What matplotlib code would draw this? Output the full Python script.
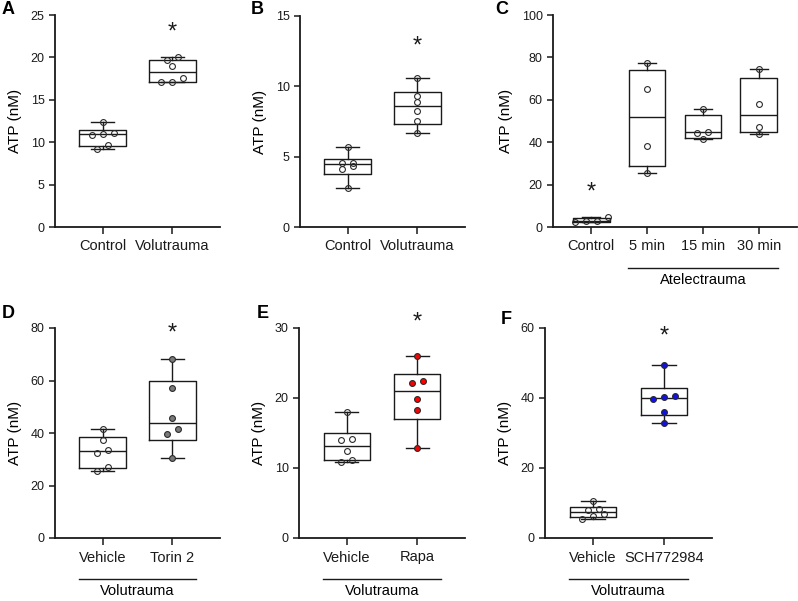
"""Six-panel ATP box plots (volutrauma / atelectrauma)."""

import matplotlib

matplotlib.use("Agg")
import matplotlib.pyplot as plt
import matplotlib.transforms as mtransforms
import numpy as np

plt.rcParams["font.family"] = ["Liberation Sans", "DejaVu Sans"]

FIG_W, FIG_H = 798, 601

# ---- data (ATP, nM) ----
a_labels = ["Control", "Volutrauma"]
a_control = [12.35, 11.12, 10.97, 10.88, 9.67, 9.16]
a_volutrauma = [20.04, 19.65, 18.94, 17.6, 17.09, 17.09]

b_labels = ["Control", "Volutrauma"]
b_control = [5.71, 4.57, 4.57, 4.34, 4.1, 2.79]
b_volutrauma = [10.59, 9.29, 8.89, 8.25, 7.54, 6.71]

c_labels = ["Control", "5 min", "15 min", "30 min"]
c_control = [4.7, 3.0, 2.6, 2.3]
c_5min = [77.2, 65.2, 38.3, 25.5]
c_15min = [55.7, 44.9, 44.3, 41.3]
c_30min = [74.6, 58.0, 47.2, 43.8]

d_labels = ["Vehicle", "Torin 2"]
d_vehicle = [41.6, 37.3, 33.6, 32.4, 27.0, 25.5]
d_torin = [68.3, 57.0, 45.6, 41.7, 39.8, 30.6]

e_labels = ["Vehicle", "Rapa"]
e_vehicle = [17.96, 14.1, 13.96, 12.45, 11.2, 10.9]
e_rapa = [26.0, 22.5, 22.2, 19.9, 18.3, 12.9]

f_labels = ["Vehicle", "SCH772984"]
f_vehicle = [10.57, 8.4, 8.0, 6.86, 6.29, 5.33]
f_sch = [49.4, 40.6, 40.2, 39.6, 35.9, 32.8]


def spread_offsets(values, row_height, step):
    """Prism-like scatter: bin close values into rows and centre each row."""
    values = np.asarray(values, dtype=float)
    order = np.argsort(values)
    offsets = np.zeros(len(values))
    rows, current = [], [order[0]]
    for idx in order[1:]:
        if values[idx] - values[current[0]] < row_height:
            current.append(idx)
        else:
            rows.append(current)
            current = [idx]
    rows.append(current)
    for row in rows:
        for k, idx in enumerate(row):
            offsets[idx] = (k - (len(row) - 1) / 2) * step
    return offsets


def draw_panel(rect_px, groups, labels, yticks, fills, star, bracket=None):
    left, top, right, bottom = rect_px
    rect = [left / FIG_W, 1 - bottom / FIG_H, (right - left) / FIG_W, (bottom - top) / FIG_H]
    ax = fig.add_axes(rect)
    n = len(groups)
    xlim = (-0.68, n - 1 + 0.68)
    ylim = (0, yticks[-1])
    ax.set_xlim(*xlim)
    ax.set_ylim(*ylim)

    stats = []
    for values in groups:
        q1, med, q3 = np.percentile(values, [25, 50, 75], method="weibull")
        stats.append(dict(med=med, q1=q1, q3=q3, whislo=min(values),
                          whishi=max(values), fliers=[]))
    line = dict(color="#1a1a1a", linewidth=1.0)
    ax.bxp(stats, positions=range(n), widths=0.66, capwidths=0.33,
           showfliers=False, manage_ticks=False, boxprops=line,
           whiskerprops=line, capprops=line, medianprops=line)

    px_per_x = (right - left) / (xlim[1] - xlim[0])
    px_per_y = (bottom - top) / (ylim[1] - ylim[0])
    for pos, (values, fill) in enumerate(zip(groups, fills)):
        offsets = spread_offsets(values, 5.5 / px_per_y, 11 / px_per_x)
        ax.plot(pos + offsets, values, linestyle="none", marker="o",
                markersize=4.2, markerfacecolor=fill, markeredgecolor="#2a2a2a",
                markeredgewidth=0.8, zorder=3, clip_on=False)

    star_pos, star_y = star
    ax.text(star_pos, star_y, "*", ha="center", va="center", fontsize=17,
            color="#1a1a1a", clip_on=False)

    ax.set_xticks(range(n), labels, fontsize=10.5)
    ax.set_yticks(yticks)
    ax.tick_params(axis="y", labelsize=9, length=4, width=1.1, colors="#1a1a1a")
    ax.tick_params(axis="x", length=5, width=1.1, pad=4, colors="#1a1a1a")
    ax.set_ylabel("ATP (nM)", fontsize=11, labelpad=6)
    ax.spines[["top", "right"]].set_visible(False)
    for side in ("left", "bottom"):
        ax.spines[side].set_linewidth(1.3)
        ax.spines[side].set_color("#1a1a1a")

    if bracket is not None:
        first, last, text = bracket
        trans = mtransforms.blended_transform_factory(ax.transData, ax.transAxes)
        y_line = -41 / (bottom - top)
        ax.plot([first - 0.34, last + 0.34], [y_line, y_line], color="#1a1a1a",
                linewidth=1.0, transform=trans, clip_on=False)
        ax.text((first + last) / 2, y_line - 5 / (bottom - top), text,
                transform=trans, ha="center", va="top", fontsize=10.5)
    return ax


fig = plt.figure(figsize=(FIG_W / 100, FIG_H / 100), dpi=100)

draw_panel((55, 15, 220, 227), [a_control, a_volutrauma], a_labels,
           [0, 5, 10, 15, 20, 25], ["none", "none"], (1, 22.9))
draw_panel((300, 16, 465, 227), [b_control, b_volutrauma], b_labels,
           [0, 5, 10, 15], ["none", "none"], (1, 12.8))
draw_panel((553, 15, 797, 227), [c_control, c_5min, c_15min, c_30min], c_labels,
           [0, 20, 40, 60, 80, 100], ["none"] * 4, (0, 16.2),
           bracket=(1, 3, "Atelectrauma"))
draw_panel((55, 328, 220, 538), [d_vehicle, d_torin], d_labels,
           [0, 20, 40, 60, 80], ["none", "#7a7a7a"], (1, 78.0),
           bracket=(0, 1, "Volutrauma"))
draw_panel((299, 328, 465, 538), [e_vehicle, e_rapa], e_labels,
           [0, 10, 20, 30], ["none", "#ff0000"], (1, 30.8),
           bracket=(0, 1, "Volutrauma"))
draw_panel((545, 328, 712, 538), [f_vehicle, f_sch], f_labels,
           [0, 20, 40, 60], ["none", "#1010e8"], (1, 57.5),
           bracket=(0, 1, "Volutrauma"))

for letter, x, y in [("A", 8, 10), ("B", 257, 10), ("C", 502, 10),
                     ("D", 8, 313), ("E", 263, 313), ("F", 506, 319)]:
    fig.text(x / FIG_W, 1 - y / FIG_H, letter, ha="center", va="center",
             fontsize=13, fontweight="bold")

fig.savefig("out.png", dpi=100, facecolor="white")
